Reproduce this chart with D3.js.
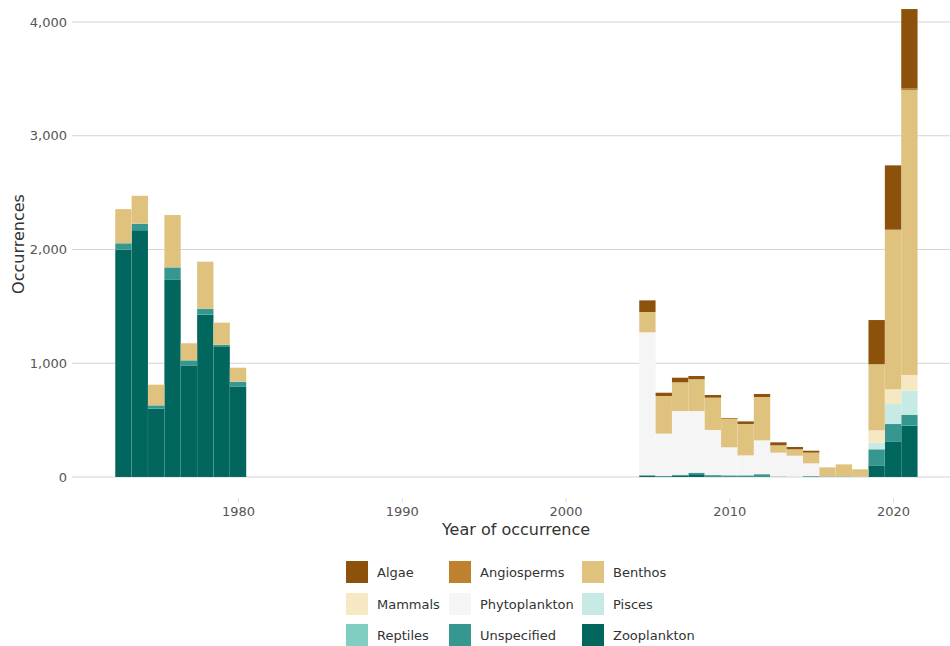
<!DOCTYPE html>
<html>
<head>
<meta charset="utf-8">
<script src="https://cdn.jsdelivr.net/npm/d3@7"></script>
<style>
  body { margin: 0; background: #fff; font-family: "DejaVu Sans", sans-serif; }
</style>
</head>
<body>
<div id="container"></div>
<script>
// Chart size
const width = 950;
const height = 646;
const margin = {top: 22, right: 0, bottom: 169, left: 72};

// Data: years and occurrences per group (stacked bottom to top: Zooplankton ... Algae)
const years = [1973, 1974, 1975, 1976, 1977, 1978, 1979, 1980,
               2005, 2006, 2007, 2008, 2009, 2010, 2011, 2012, 2013,
               2014, 2015, 2016, 2017, 2018, 2019, 2020, 2021];

const groups = ["Algae", "Angiosperms", "Benthos", "Mammals", "Phytoplankton",
                "Pisces", "Reptiles", "Unspecified", "Zooplankton"];
const colors = ["#8c510a", "#bf812d", "#dfc27d", "#f6e8c3", "#f5f5f5",
                "#c7eae5", "#80cdc1", "#35978f", "#01665e"];

const zooplankton   = [2000, 2170, 600, 1738, 982, 1427, 1150, 797,
                       15, 0, 10, 25, 0, 0, 0, 0, 0, 0, 0, 0, 0, 0, 103, 314, 451];
const unspecified   = [55, 57, 30, 105, 44, 53, 12, 41,
                       0, 10, 10, 13, 17, 15, 15, 25, 5, 3, 8, 5, 5, 3, 141, 152, 97];
const reptiles      = [0, 0, 0, 0, 0, 0, 0, 0,
                       0, 0, 0, 0, 0, 0, 0, 0, 0, 0, 0, 0, 0, 0, 0, 0, 0];
const pisces        = [0, 0, 0, 0, 0, 0, 0, 0,
                       0, 0, 0, 0, 0, 0, 0, 0, 0, 0, 0, 0, 0, 0, 58, 176, 211];
const phytoplankton = [0, 0, 0, 0, 0, 0, 0, 0,
                       1257, 371, 560, 542, 396, 246, 175, 297, 209, 184, 112, 0, 0, 0, 0, 0, 0];
const mammals       = [0, 0, 0, 0, 0, 0, 0, 0,
                       0, 0, 0, 0, 0, 0, 0, 0, 0, 0, 0, 0, 0, 0, 108, 129, 138];
const benthos       = [300, 245, 182, 460, 150, 413, 195, 123,
                       178, 331, 252, 279, 284, 248, 276, 381, 64, 56, 94, 80, 106, 65, 581, 1403, 2502];
const angiosperms   = [0, 0, 0, 0, 0, 0, 0, 0,
                       0, 0, 0, 0, 0, 10, 0, 0, 0, 0, 0, 0, 0, 0, 0, 0, 15];
const algae         = [0, 0, 0, 0, 0, 0, 0, 0,
                       103, 29, 41, 29, 24, 0, 23, 27, 27, 21, 17, 0, 0, 0, 389, 566, 700];

const seriesByGroup = {
  Algae: algae, Angiosperms: angiosperms, Benthos: benthos, Mammals: mammals,
  Phytoplankton: phytoplankton, Pisces: pisces, Reptiles: reptiles,
  Unspecified: unspecified, Zooplankton: zooplankton
};

const yTicks = [0, 1000, 2000, 3000, 4000];
const xTicks = [1980, 1990, 2000, 2010, 2020];

// Build table for d3.stack
const table = years.map(function (yr, i) {
  const row = {year: yr};
  groups.forEach(g => { row[g] = seriesByGroup[g][i]; });
  return row;
});

const stackOrder = groups.slice().reverse();
const stacked = d3.stack().keys(stackOrder)(table);
const color = d3.scaleOrdinal().domain(groups).range(colors);

const svg = d3.select("#container")
  .append("svg")
  .attr("width", width)
  .attr("height", height);

// Scales
const xScale = d3.scaleLinear()
  .domain([1969.86, 2023.48])
  .range([margin.left, width - margin.right]);

const yScale = d3.scaleLinear()
  .domain([0, 4000])
  .range([477, 22]);

// Gridlines
svg.append("g")
  .selectAll("line")
  .data(yTicks)
  .enter()
  .append("line")
  .attr("x1", margin.left)
  .attr("x2", width)
  .attr("y1", d => yScale(d))
  .attr("y2", d => yScale(d))
  .attr("stroke", "#d3d3d3")
  .attr("stroke-width", 1);

// Y axis labels
const yAxis = d3.axisLeft(yScale)
  .tickValues(yTicks)
  .tickFormat(d3.format(","))
  .tickSize(0)
  .tickPadding(5);
svg.append("g")
  .attr("transform", `translate(${margin.left}, 0)`)
  .call(yAxis)
  .call(g => g.select(".domain").remove())
  .selectAll("text")
  .attr("font-family", "DejaVu Sans")
  .attr("font-size", 13)
  .attr("fill", "#555");

// Bars
svg.append("g")
  .selectAll("g")
  .data(stacked)
  .enter()
  .append("g")
  .attr("fill", d => color(d.key))
  .selectAll("rect")
  .data(d => d)
  .enter()
  .append("rect")
  .attr("x", d => xScale(d.data.year - 0.5))
  .attr("width", d => xScale(d.data.year + 0.5) - xScale(d.data.year - 0.5))
  .attr("y", d => yScale(d[1]))
  .attr("height", d => Math.max(0, yScale(d[0]) - yScale(d[1])))
  .attr("stroke", "rgba(255,255,255,0.12)")
  .attr("stroke-width", 0.5);

// X axis
const xAxis = d3.axisBottom(xScale)
  .tickValues(xTicks)
  .tickFormat(d3.format("d"))
  .tickSize(5)
  .tickPadding(4);
svg.append("g")
  .attr("transform", "translate(0, 498)")
  .call(xAxis)
  .call(g => g.select(".domain").remove())
  .call(g => g.selectAll("line").attr("stroke", "#ddd"))
  .selectAll("text")
  .attr("font-family", "DejaVu Sans")
  .attr("font-size", 13)
  .attr("fill", "#555");

// Axis titles
svg.append("text")
  .attr("x", 516)
  .attr("y", 535)
  .attr("text-anchor", "middle")
  .attr("font-family", "DejaVu Sans")
  .attr("font-size", 16)
  .attr("fill", "#333")
  .text("Year of occurrence");

svg.append("text")
  .attr("transform", "translate(24, 244) rotate(-90)")
  .attr("text-anchor", "middle")
  .attr("font-family", "DejaVu Sans")
  .attr("font-size", 16)
  .attr("fill", "#333")
  .text("Occurrences");

// Legend
const legendCols = [346, 449, 582];
const legendRows = [561, 593, 624];
const legend = svg.append("g")
  .selectAll("g")
  .data(groups)
  .enter()
  .append("g")
  .attr("transform", (d, i) => `translate(${legendCols[i % 3]}, ${legendRows[Math.floor(i / 3)]})`);

legend.append("rect")
  .attr("width", 22)
  .attr("height", 22)
  .attr("fill", d => color(d));

legend.append("text")
  .attr("x", 31)
  .attr("y", 16)
  .attr("font-family", "DejaVu Sans")
  .attr("font-size", 13)
  .attr("fill", "#333")
  .text(d => d);
</script>
</body>
</html>
